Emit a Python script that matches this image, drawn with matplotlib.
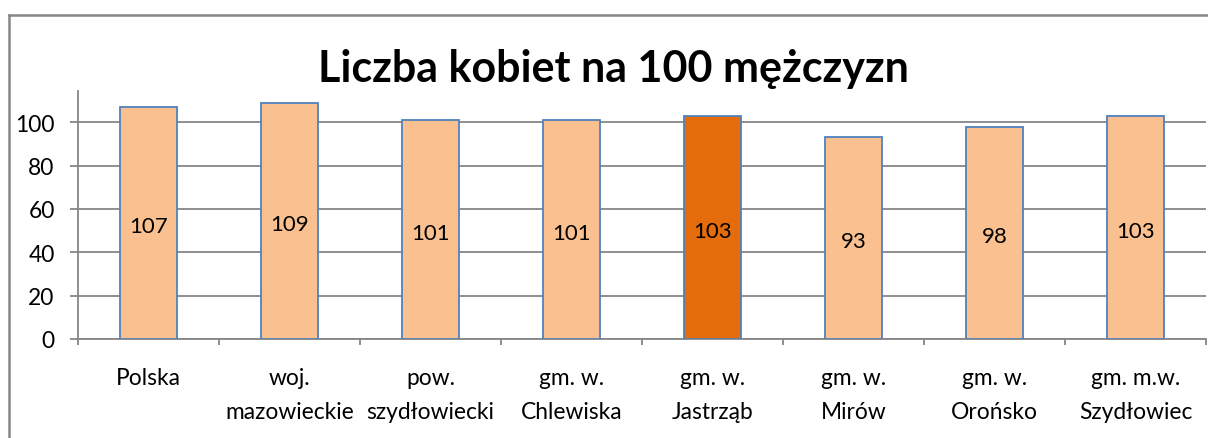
import matplotlib
matplotlib.use("Agg")
import matplotlib.pyplot as plt
from matplotlib.lines import Line2D
import numpy as np

# chart data
categories = ["Polska", "woj.\nmazowieckie", "pow.\nszydłowiecki", "gm. w.\nChlewiska",
              "gm. w.\nJastrząb", "gm. w.\nMirów", "gm. w.\nOrońsko", "gm. m.w.\nSzydłowiec"]
values = [107, 109, 101, 101, 103, 93, 98, 103]
highlight = "gm. w.\nJastrząb"
y_ticks = [0, 20, 40, 60, 80, 100]
title = "Liczba kobiet na 100 mężczyzn"

plt.rcParams['font.family'] = ['Lato', 'DejaVu Sans']

W, H = 1208, 439
fig = plt.figure(figsize=(W / 100, H / 100), dpi=100)

# plot area in pixels
left, right, top, bottom = 78, 1206, 92, 340
ax = fig.add_axes([left / W, 1 - bottom / H, (right - left) / W, (bottom - top) / H])

grey = "#868686"
x = np.arange(len(categories))
colors = ["#E46C0A" if c == highlight else "#FAC090" for c in categories]
bars = ax.bar(x, values, width=0.4, color=colors, edgecolor="#4F81BD", linewidth=1.3, zorder=3)

for b, v in zip(bars, values):
    ax.text(b.get_x() + b.get_width() / 2, v / 2 - 1.5, str(v), ha="center", va="center",
            fontsize=16, color="black", zorder=4)

ax.set_xlim(-0.5, len(categories) - 0.5)
ax.set_ylim(0, 114.4)
ax.set_yticks(y_ticks)
ax.yaxis.grid(True, color=grey, linewidth=1.3, zorder=0)
ax.set_xticks(x)
ax.set_xticklabels(categories, fontsize=16.4, linespacing=1.75)
ax.set_xticks(np.arange(len(categories) + 1) - 0.5, minor=True)
ax.tick_params(axis="x", which="major", length=0, pad=20)
ax.tick_params(axis="x", which="minor", length=4.5, width=1.3, color=grey, direction="out")
ax.tick_params(axis="y", length=5.8, width=1.3, color=grey, labelsize=16.4, pad=11)

for s in ["top", "right"]:
    ax.spines[s].set_visible(False)
for s in ["left", "bottom"]:
    ax.spines[s].set_color(grey)
    ax.spines[s].set_linewidth(1.3)

fig.text(613 / W, 1 - 82 / H, title, ha="center", va="baseline", fontsize=31, fontweight="bold")

# outer chart frame (left and top edges, the rest is cropped)
fig.add_artist(Line2D([9 / W, 9 / W], [0, 1 - 16 / H], color=grey, linewidth=1.8))
fig.add_artist(Line2D([9 / W, 1], [1 - 16 / H, 1 - 16 / H], color=grey, linewidth=1.8))

fig.savefig("out.png", dpi=100)
